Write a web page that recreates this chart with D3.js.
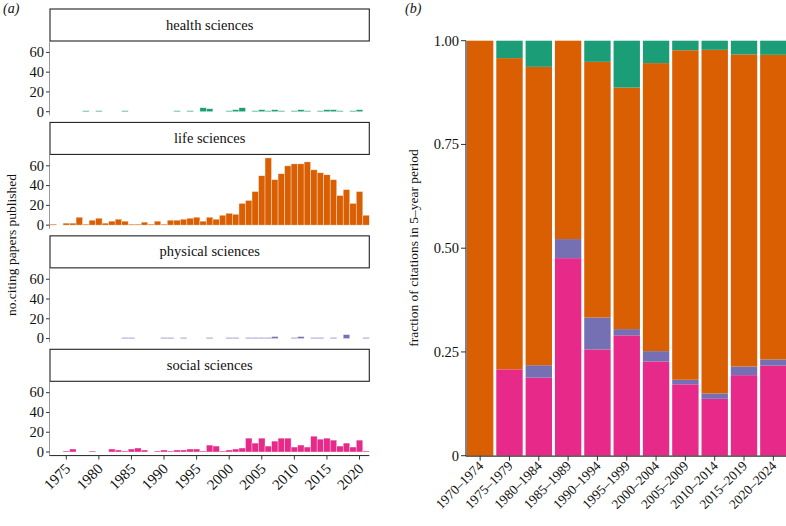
<!DOCTYPE html>
<html><head><meta charset="utf-8">
<script src="https://cdn.jsdelivr.net/npm/d3@7"></script>
<style>
body{margin:0;background:#fff;}
svg{display:block;}
text{font-family:"Liberation Serif","DejaVu Serif","Times New Roman",serif;fill:#111;}
</style>
</head><body>
<svg id="c" width="786" height="526"></svg>
<script>
// ---------- DATA ----------
const years = [1973,1974,1975,1976,1977,1978,1979,1980,1981,1982,
  1983,1984,1985,1986,1987,1988,1989,1990,1991,1992,
  1993,1994,1995,1996,1997,1998,1999,2000,2001,2002,
  2003,2004,2005,2006,2007,2008,2009,2010,2011,2012,
  2013,2014,2015,2016,2017,2018,2019,2020,2021];
const healthCounts = [0,0,0,0,0,1,0,1,0,0, 0,1,0,0,0,0,0,0,0,1, 0,1,0,4,3,0,0,1,2,4, 0,1,2,1,2,1,0,1,2,1, 0,1,2,2,1,0,1,2,0];
const lifeCounts = [1,0,2,2,8,1,5,7,2,4, 6,4,1,1,3,1,4,1,5,5, 6,7,8,4,8,6,10,12,11,22, 25,34,50,68,46,52,60,62,62,64, 56,53,51,46,30,36,22,34,10];
const physicalCounts = [0,0,0,0,0,0,0,0,0,0, 0,1,1,0,0,0,0,1,1,0, 1,0,0,0,1,0,0,1,1,0, 1,1,1,1,2,0,0,1,2,0, 1,1,0,1,0,4,0,0,1];
const socialCounts = [0,0,1,3,0,0,1,0,0,3, 2,1,3,4,2,0,1,2,1,2, 2,3,3,1,7,6,1,2,3,4, 14,9,14,6,11,14,14,5,7,5, 16,13,14,12,6,9,5,12,1];
const fields = ["health sciences","life sciences","physical sciences","social sciences"];
const fieldColors = ["#1b9e77","#d95f02","#7570b3","#e7298a"];
const yearTicks = [1975,1980,1985,1990,1995,2000,2005,2010,2015,2020];
const countTicks = [0,20,40,60];

const periods = ["1970\u20131974","1975\u20131979","1980\u20131984","1985\u20131989","1990\u20131994","1995\u20131999","2000\u20132004","2005\u20132009","2010\u20132014","2015\u20132019","2020\u20132024"];
const socialFrac   = [0,0.208,0.188,0.476,0.256,0.290,0.227,0.172,0.137,0.194,0.217];
const physicalFrac = [0,0,0.030,0.046,0.077,0.015,0.025,0.011,0.013,0.021,0.015];
const lifeFrac     = [1.0,0.750,0.719,0.478,0.616,0.582,0.694,0.794,0.828,0.752,0.734];
const healthFrac   = [0,0.042,0.063,0,0.051,0.113,0.054,0.023,0.022,0.033,0.034];
const fracTicks = [0,0.25,0.5,0.75,1];
const fracTickLabels = ["0","0.25","0.50","0.75","1.00"];

// ---------- PANEL A ----------
const svg = d3.select("#c");
const counts = [healthCounts, lifeCounts, physicalCounts, socialCounts];
const ax0 = 50, ax1 = 369.3;
const x = d3.scaleLinear().domain([1972.5, 2021.5]).range([ax0, ax1]);
const facetStep = 113.43, firstZero = 111.7;

svg.append("text").attr("x",3).attr("y",13).attr("font-size",14).attr("font-style","italic").text("(a)");

fields.forEach((f, i) => {
  const y0 = firstZero + i*facetStep;
  const stripTop = y0 - 102.7, stripH = 32;
  const panelTop = stripTop + stripH, panelBot = y0 + 3.6;
  const y = d3.scaleLinear().domain([0, 60]).range([y0, y0 - 59.3]);
  const g = svg.append("g");
  // strip
  g.append("rect").attr("x",ax0).attr("y",stripTop).attr("width",ax1-ax0).attr("height",stripH)
    .attr("fill","#fff").attr("stroke","#222").attr("stroke-width",1.1);
  g.append("text").attr("x",(ax0+ax1)/2).attr("y",stripTop+stripH/2+4.5).attr("text-anchor","middle")
    .attr("font-size",14.5).text(f);
  // bars
  const data = years.map((yr, k) => ({yr, v: counts[i][k]})).filter(d => d.v > 0);
  g.selectAll("rect.bar").data(data).enter().append("rect").attr("class","bar")
    .attr("x", d => x(d.yr - 0.5))
    .attr("width", x(1) - x(0))
    .attr("y", d => y(d.v))
    .attr("height", d => Math.max(1, y(0) - y(d.v)))
    .attr("fill", fieldColors[i])
    .attr("stroke","rgba(255,255,255,0.6)").attr("stroke-width",0.6);
  // y axis
  g.append("line").attr("x1",ax0-0.5).attr("x2",ax0-0.5).attr("y1",panelTop).attr("y2",panelBot)
    .attr("stroke","#999").attr("stroke-width",1);
  countTicks.forEach(t => {
    g.append("line").attr("x1",ax0-4).attr("x2",ax0-0.5).attr("y1",y(t)).attr("y2",y(t)).attr("stroke","#333");
    g.append("text").attr("x",ax0-6).attr("y",y(t)+4.8).attr("text-anchor","end").attr("font-size",14.5).text(t);
  });
  if (i === fields.length-1) {
    g.append("line").attr("x1",ax0-0.5).attr("x2",ax1).attr("y1",panelBot).attr("y2",panelBot).attr("stroke","#222");
    yearTicks.forEach(t => {
      g.append("line").attr("x1",x(t)).attr("x2",x(t)).attr("y1",panelBot).attr("y2",panelBot+4).attr("stroke","#333");
      g.append("text").attr("transform",`translate(${x(t)+5},${panelBot+14}) rotate(-45)`)
        .attr("text-anchor","end").attr("font-size",15).text(t);
    });
  }
});
svg.append("text").attr("transform","translate(16,245) rotate(-90)").attr("text-anchor","middle")
  .attr("font-size",13.5).text("no.citing papers published");

// ---------- PANEL B ----------
const bx0 = 466, by0 = 455.7, by1 = 40.7;
const xb = d3.scaleBand().domain(periods).range([465.5, 788]).paddingInner(0.1).paddingOuter(0.05);
const yb = d3.scaleLinear().domain([0,1]).range([by0, by1]);
svg.append("text").attr("x",405).attr("y",13).attr("font-size",14).attr("font-style","italic").text("(b)");

const rows = periods.map((p, k) => ({period:p, social:socialFrac[k], physical:physicalFrac[k], life:lifeFrac[k], health:healthFrac[k]}));
const keys = ["social","physical","life","health"];
const keyColors = {social:"#e7298a", physical:"#7570b3", life:"#d95f02", health:"#1b9e77"};
const stacked = d3.stack().keys(keys)(rows);
stacked.forEach(layer => {
  svg.append("g").selectAll("rect").data(layer.filter(d => d[1]-d[0] > 0)).enter().append("rect")
    .attr("x", d => xb(d.data.period))
    .attr("width", xb.bandwidth())
    .attr("y", d => yb(Math.min(1,d[1])))
    .attr("height", d => yb(d[0]) - yb(Math.min(1,d[1])))
    .attr("fill", keyColors[layer.key]);
});
// axes b
svg.append("line").attr("x1",bx0).attr("x2",bx0).attr("y1",by1).attr("y2",by0+0.5).attr("stroke","#333").attr("stroke-width",1.2);
svg.append("line").attr("x1",bx0).attr("x2",786).attr("y1",by0+0.5).attr("y2",by0+0.5).attr("stroke","#333").attr("stroke-width",1.2);
fracTicks.forEach((t, k) => {
  svg.append("line").attr("x1",bx0-5).attr("x2",bx0).attr("y1",yb(t)).attr("y2",yb(t)).attr("stroke","#333");
  svg.append("text").attr("x",bx0-7).attr("y",yb(t)+4.8).attr("text-anchor","end").attr("font-size",14.5).text(fracTickLabels[k]);
});
periods.forEach(p => {
  const cx = xb(p) + xb.bandwidth()/2;
  svg.append("line").attr("x1",cx).attr("x2",cx).attr("y1",by0).attr("y2",by0+5).attr("stroke","#333");
  svg.append("text").attr("transform",`translate(${cx+4},${by0+11}) rotate(-45)`)
    .attr("text-anchor","end").attr("font-size",13.5).text(p);
});
svg.append("text").attr("transform","translate(418,248) rotate(-90)").attr("text-anchor","middle")
  .attr("font-size",13.5).text("fraction of citations in 5\u2013year period");
</script>
</body></html>
